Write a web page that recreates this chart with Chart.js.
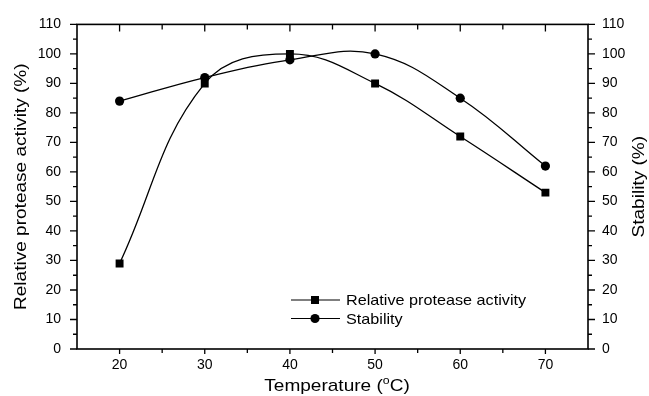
<!DOCTYPE html>
<html>
<head>
<meta charset="utf-8">
<script src="https://cdn.jsdelivr.net/npm/chart.js@4/dist/chart.umd.min.js"></script>
<style>
html,body{margin:0;padding:0;background:#fff;}
#wrap{width:649px;height:396px;position:relative;}
</style>
</head>
<body>
<div id="wrap"><canvas id="c" width="649" height="396"></canvas></div>
<script>
// ---- data ----
const temperature = [20, 30, 40, 50, 60, 70];
const activity = [29, 90, 100, 90, 72, 53];
const stability = [84, 92, 98, 100, 85, 62];
const xTickValues = [20, 30, 40, 50, 60, 70];
const yTickValues = [0, 10, 20, 30, 40, 50, 60, 70, 80, 90, 100, 110];
const seriesNames = ['Relative protease activity', 'Stability'];
const xTitle = ['Temperature (', 'o', 'C)'];
const yTitle = 'Relative protease activity (%)';
const y2Title = 'Stability (%)';

const FONT = '"Liberation Sans", Arial, sans-serif';

function mid(vals){ const m=[]; for(let i=0;i<vals.length-1;i++) m.push((vals[i]+vals[i+1])/2); return m; }

const framePlugin = {
  id: 'frame',
  afterDraw(chart) {
    const {ctx, chartArea: a, scales} = chart;
    const x = scales.x, y = scales.y, y2 = scales.y2;
    ctx.save();
    ctx.strokeStyle = '#000';
    ctx.lineWidth = 1.6;
    ctx.strokeRect(a.left, a.top, a.right - a.left, a.bottom - a.top);
    ctx.lineWidth = 1.3;
    ctx.beginPath();
    const xMinor = [15].concat(xTickValues).concat([75]);
    const xm = mid(xMinor).filter(v => xTickValues.indexOf(v) < 0);
    // bottom (out) and top (in)
    xTickValues.forEach(v => { const px = x.getPixelForValue(v);
      ctx.moveTo(px, a.bottom); ctx.lineTo(px, a.bottom + 5);
      ctx.moveTo(px, a.top); ctx.lineTo(px, a.top + 7); });
    [25,35,45,55,65].forEach(v => { const px = x.getPixelForValue(v);
      ctx.moveTo(px, a.bottom); ctx.lineTo(px, a.bottom + 4);
      ctx.moveTo(px, a.top); ctx.lineTo(px, a.top + 5); });
    // left (out) and right (out)
    yTickValues.forEach(v => { const py = y.getPixelForValue(v);
      ctx.moveTo(a.left, py); ctx.lineTo(a.left - 7, py);
      const py2 = y2.getPixelForValue(v);
      ctx.moveTo(a.right, py2); ctx.lineTo(a.right + 7, py2); });
    mid(yTickValues).forEach(v => { const py = y.getPixelForValue(v);
      ctx.moveTo(a.left, py); ctx.lineTo(a.left - 4, py);
      const py2 = y2.getPixelForValue(v);
      ctx.moveTo(a.right, py2); ctx.lineTo(a.right + 4, py2); });
    ctx.stroke();

    // titles
    ctx.fillStyle = '#000';
    ctx.textBaseline = 'middle';
    ctx.textAlign = 'center';
    const tFont = '17px ' + FONT;
    const sx = 1.12;
    // left
    ctx.save();
    ctx.translate(21, (a.top + a.bottom) / 2);
    ctx.rotate(-Math.PI / 2);
    ctx.scale(sx, 1);
    ctx.font = tFont;
    ctx.fillText(yTitle, 0, 0);
    ctx.restore();
    // right
    ctx.save();
    ctx.translate(639, (a.top + a.bottom) / 2);
    ctx.rotate(-Math.PI / 2);
    ctx.scale(sx, 1);
    ctx.font = tFont;
    ctx.fillText(y2Title, 0, 0);
    ctx.restore();
    // bottom with superscript
    ctx.save();
    ctx.translate(337, 386);
    ctx.scale(sx, 1);
    ctx.textAlign = 'left';
    ctx.font = tFont;
    const w0 = ctx.measureText(xTitle[0]).width;
    const w2 = ctx.measureText(xTitle[2]).width;
    ctx.font = '11px ' + FONT;
    const w1 = ctx.measureText(xTitle[1]).width;
    const tot = w0 + w1 + w2;
    let cx = -tot / 2;
    ctx.font = tFont;
    ctx.fillText(xTitle[0], cx, 0); cx += w0;
    ctx.font = '11px ' + FONT;
    ctx.fillText(xTitle[1], cx, -5); cx += w1;
    ctx.font = tFont;
    ctx.fillText(xTitle[2], cx, 0);
    ctx.restore();

    // legend
    chart.data.datasets.forEach((ds, i) => {
      const ly = 300 + i * 18.5;
      ctx.beginPath();
      ctx.lineWidth = 1.2;
      ctx.moveTo(291, ly); ctx.lineTo(340, ly);
      ctx.stroke();
      ctx.beginPath();
      if (ds.pointStyle === 'rect') {
        ctx.rect(315 - 4, ly - 4, 8, 8);
      } else {
        ctx.arc(315, ly, 4.6, 0, Math.PI * 2);
      }
      ctx.fill();
      ctx.save();
      ctx.translate(346, ly);
      ctx.scale(1.08, 1);
      ctx.font = '15px ' + FONT;
      ctx.textAlign = 'left';
      ctx.textBaseline = 'middle';
      ctx.fillText(ds.label, 0, 1);
      ctx.restore();
    });
    ctx.restore();
  }
};

const tickFont = { family: FONT, size: 14 };

new Chart(document.getElementById('c'), {
  type: 'line',
  data: {
    datasets: [
      {
        label: seriesNames[0],
        data: temperature.map((t, i) => ({ x: t, y: activity[i] })),
        yAxisID: 'y',
        borderColor: '#000', backgroundColor: '#000',
        borderWidth: 1.3, tension: 0.4,
        pointStyle: 'rect', pointRadius: 5.6, pointHoverRadius: 5.6,
        pointBorderWidth: 0
      },
      {
        label: seriesNames[1],
        data: temperature.map((t, i) => ({ x: t, y: stability[i] })),
        yAxisID: 'y2',
        borderColor: '#000', backgroundColor: '#000',
        borderWidth: 1.3, tension: 0.4,
        pointStyle: 'circle', pointRadius: 4.6, pointHoverRadius: 4.6,
        pointBorderWidth: 0
      }
    ]
  },
  options: {
    responsive: false,
    animation: false,
    events: [],
    layout: { padding: { top: 20, left: 0, right: 0, bottom: 0 } },
    plugins: { legend: { display: false }, tooltip: { enabled: false } },
    scales: {
      x: {
        type: 'linear', position: 'bottom', min: 15, max: 75,
        grid: { display: false, drawTicks: false },
        border: { display: false },
        ticks: { font: tickFont, color: '#000', padding: 8, maxRotation: 0 },
        afterBuildTicks: s => { s.ticks = xTickValues.map(v => ({ value: v })); },
        afterFit: s => { s.height = 47; }
      },
      y: {
        type: 'linear', position: 'left', min: 0, max: 110,
        grid: { display: false, drawTicks: false },
        border: { display: false },
        ticks: { font: tickFont, color: '#000', padding: 16 },
        afterBuildTicks: s => { s.ticks = yTickValues.map(v => ({ value: v })); },
        afterFit: s => { s.width = 77; }
      },
      y2: {
        type: 'linear', position: 'right', min: 0, max: 110,
        grid: { display: false, drawTicks: false },
        border: { display: false },
        ticks: { font: tickFont, color: '#000', padding: 14 },
        afterBuildTicks: s => { s.ticks = yTickValues.map(v => ({ value: v })); },
        afterFit: s => { s.width = 61; }
      }
    }
  },
  plugins: [framePlugin]
});
</script>
</body>
</html>
